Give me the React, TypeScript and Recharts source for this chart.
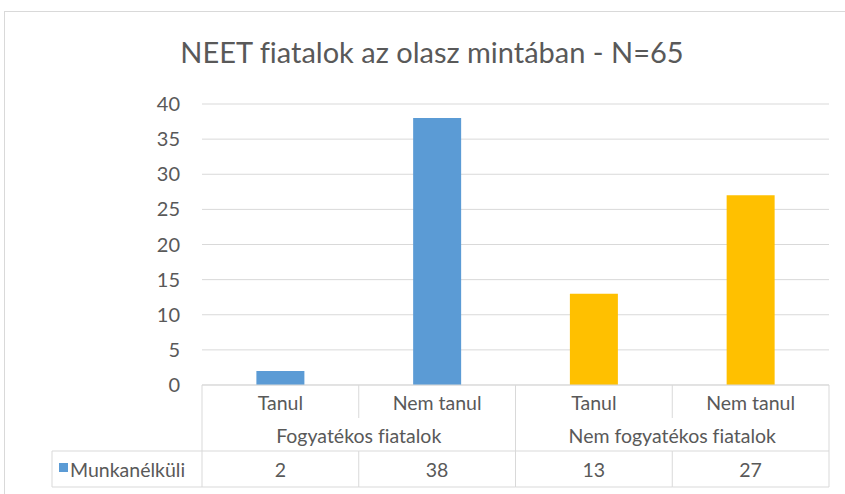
import React from 'react';
import { BarChart, Bar, XAxis, YAxis, CartesianGrid, Cell } from 'recharts';

// Chart data
const categories = ['Tanul', 'Nem tanul', 'Tanul', 'Nem tanul'];
const unemployed = [2, 38, 13, 27];
const groups = [
  { name: 'Fogyatékos fiatalok', start: 0, span: 2 },
  { name: 'Nem fogyatékos fiatalok', start: 2, span: 2 },
];
const barColors = ['#5B9BD5', '#5B9BD5', '#FFC000', '#FFC000'];
const yTicks = [0, 5, 10, 15, 20, 25, 30, 35, 40];
const seriesName = 'Munkanélküli';
const title = 'NEET fiatalok az olasz mintában - N=65';

const W = 845;
const H = 494;
const PLOT_LEFT = 202;
const PLOT_RIGHT = 829;
const PLOT_TOP = 104;
const PLOT_BOTTOM = 385;
const COL_W = (PLOT_RIGHT - PLOT_LEFT) / categories.length;
const LEGEND_LEFT = 52;
const ROW1 = 418;
const ROW2 = 451;
const ROW3 = 487;
const LINE = '#d9d9d9';
const TEXT = '#595959';
const FONT = 'Lato, "Open Sans", sans-serif';
const TABLE_FS = 19.5;

const data = categories.map((c, i) => ({ cat: c, value: unemployed[i] }));

// x axis tick draws the data table underneath the plot
const TableTick = (props: any) => {
  const { x, payload } = props;
  const i = payload.index;
  const left = x - COL_W / 2;
  const right = x + COL_W / 2;
  const group = groups.find(g => g.start === i);
  const isGroupStart = !!group;
  return (
    <g fontFamily={FONT} fill={TEXT} style={{ fontVariantLigatures: 'none' }}>
      <text x={x} y={410} textAnchor="middle" fontSize={TABLE_FS} fill={TEXT}>{payload.value}</text>
      <text x={x} y={477} textAnchor="middle" fontSize={TABLE_FS} fill={TEXT}>{unemployed[i]}</text>
      {group && (
        <text x={left + (COL_W * group.span) / 2} y={443} textAnchor="middle" fontSize={TABLE_FS} fill={TEXT}>
          {group.name}
        </text>
      )}
      {isGroupStart ? (
        <line x1={left} y1={PLOT_BOTTOM} x2={left} y2={ROW3} stroke={LINE} />
      ) : (
        <>
          <line x1={left} y1={PLOT_BOTTOM} x2={left} y2={ROW1} stroke={LINE} />
          <line x1={left} y1={ROW2} x2={left} y2={ROW3} stroke={LINE} />
        </>
      )}
      {i === categories.length - 1 && (
        <line x1={right} y1={PLOT_BOTTOM} x2={right} y2={ROW3} stroke={LINE} />
      )}
      <line x1={left} y1={ROW2} x2={right} y2={ROW2} stroke={LINE} />
      <line x1={left} y1={ROW3} x2={right} y2={ROW3} stroke={LINE} />
      {i === 0 && (
        <>
          <line x1={LEGEND_LEFT} y1={ROW2} x2={left} y2={ROW2} stroke={LINE} />
          <line x1={LEGEND_LEFT} y1={ROW3} x2={left} y2={ROW3} stroke={LINE} />
          <line x1={LEGEND_LEFT} y1={ROW2} x2={LEGEND_LEFT} y2={ROW3} stroke={LINE} />
          <rect x={59} y={463} width={9} height={9} fill={barColors[0]} />
          <text x={70} y={477} fontSize={TABLE_FS} fill={TEXT}>{seriesName}</text>
        </>
      )}
    </g>
  );
};

export default function App() {
  return (
    <div style={{ position: 'absolute', left: 0, top: 0, width: W, height: H, background: '#fff', overflow: 'hidden' }}>
      <div style={{ position: 'absolute', left: 4, top: 11, width: 860, height: 520, border: `1px solid ${LINE}` }} />
      <div
        style={{
          position: 'absolute', left: 0, top: 34, width: 864, textAlign: 'center',
          fontFamily: FONT, fontSize: 29, color: TEXT, fontVariantLigatures: 'none',
        }}
      >
        {title}
      </div>
      <div style={{ position: 'absolute', left: 0, top: 0 }}>
        <BarChart
          width={W}
          height={H}
          data={data}
          margin={{ top: PLOT_TOP, right: W - PLOT_RIGHT, bottom: 0, left: PLOT_LEFT - 60 }}
          barCategoryGap="34.7%"
        >
          <CartesianGrid vertical={false} stroke={LINE} />
          <XAxis
            dataKey="cat"
            height={H - PLOT_BOTTOM}
            axisLine={{ stroke: LINE }}
            tickLine={false}
            tick={<TableTick />}
            interval={0}
          />
          <YAxis
            width={60}
            domain={[0, 40]}
            ticks={yTicks}
            axisLine={false}
            tickLine={false}
            tickSize={0}
            tickMargin={22}
            tick={{ fill: TEXT, fontSize: 20, fontFamily: FONT }}
          />
          <Bar dataKey="value" name={seriesName} isAnimationActive={false}>
            {data.map((d, i) => (
              <Cell key={`c-${i}`} fill={barColors[i]} />
            ))}
          </Bar>
        </BarChart>
      </div>
    </div>
  );
}
